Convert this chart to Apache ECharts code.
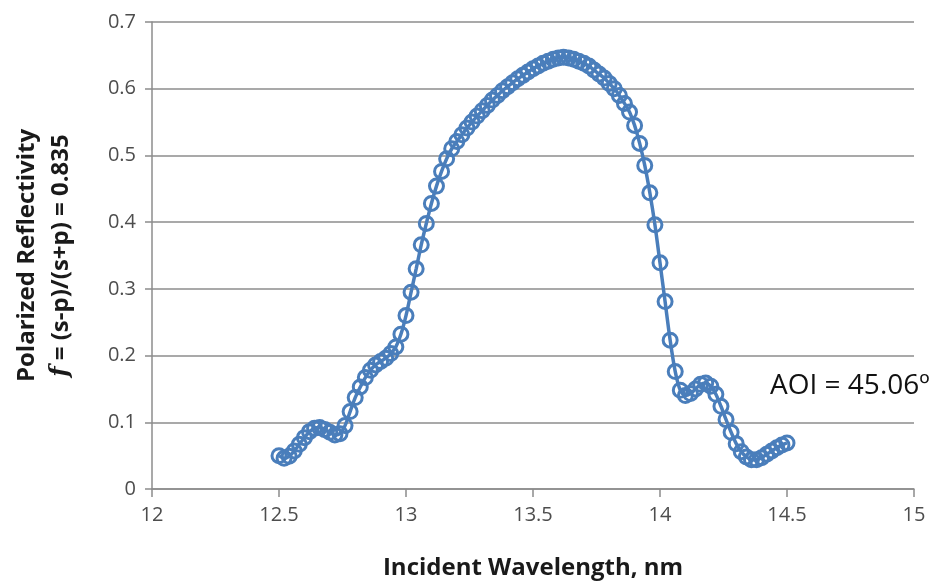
<!DOCTYPE html>
<html>
<head>
<meta charset="utf-8">
<script src="https://cdn.jsdelivr.net/npm/echarts@6/dist/echarts.min.js"></script>
<style>
  html, body { margin: 0; padding: 0; background: #fff; }
  #chart { width: 940px; height: 586px; }
</style>
</head>
<body>
<div id="chart"></div>
<script>
// wavelength (nm) at 0.02 nm steps
const wavelength = [
  12.50, 12.52, 12.54, 12.56, 12.58, 12.60, 12.62, 12.64, 12.66, 12.68,
  12.70, 12.72, 12.74, 12.76, 12.78, 12.80, 12.82, 12.84, 12.86, 12.88,
  12.90, 12.92, 12.94, 12.96, 12.98, 13.00, 13.02, 13.04, 13.06, 13.08,
  13.10, 13.12, 13.14, 13.16, 13.18, 13.20, 13.22, 13.24, 13.26, 13.28,
  13.30, 13.32, 13.34, 13.36, 13.38, 13.40, 13.42, 13.44, 13.46, 13.48,
  13.50, 13.52, 13.54, 13.56, 13.58, 13.60, 13.62, 13.64, 13.66, 13.68,
  13.70, 13.72, 13.74, 13.76, 13.78, 13.80, 13.82, 13.84, 13.86, 13.88,
  13.90, 13.92, 13.94, 13.96, 13.98, 14.00, 14.02, 14.04, 14.06, 14.08,
  14.10, 14.12, 14.14, 14.16, 14.18, 14.20, 14.22, 14.24, 14.26, 14.28,
  14.30, 14.32, 14.34, 14.36, 14.38, 14.40, 14.42, 14.44, 14.46, 14.48,
  14.50
];

// polarized reflectivity f = (s-p)/(s+p)
const reflectivity = [
  0.050, 0.046, 0.049, 0.057, 0.067, 0.077, 0.086, 0.091, 0.092, 0.089,
  0.085, 0.081, 0.083, 0.095, 0.116, 0.137, 0.153, 0.167, 0.178, 0.186,
  0.191, 0.196, 0.203, 0.213, 0.232, 0.260, 0.295, 0.330, 0.366, 0.398,
  0.428, 0.454, 0.476, 0.495, 0.510, 0.521, 0.531, 0.541, 0.550, 0.559,
  0.567, 0.575, 0.583, 0.590, 0.597, 0.603, 0.609, 0.615, 0.620, 0.625,
  0.630, 0.634, 0.638, 0.641, 0.644, 0.646, 0.647, 0.646, 0.644, 0.641,
  0.638, 0.634, 0.628, 0.622, 0.616, 0.608, 0.600, 0.590, 0.578, 0.565,
  0.545, 0.518, 0.485, 0.444, 0.396, 0.339, 0.281, 0.223, 0.176, 0.148,
  0.140, 0.143, 0.150, 0.157, 0.159, 0.154, 0.142, 0.124, 0.104, 0.085,
  0.068, 0.056, 0.048, 0.044, 0.044, 0.047, 0.052, 0.057, 0.062, 0.066,
  0.069
];

const annotation = 'AOI = 45.06º';

const FONT = '"Open Sans", "Noto Sans", sans-serif';
const BLUE = '#4a7ebb';
const AXIS_GREY = '#8c8c8c';
const TITLE = { fontFamily: FONT, fontSize: 24, fontWeight: 'bold', color: '#1a1a1a', lineHeight: 34 };

const chart = echarts.init(document.getElementById('chart'), null, { renderer: 'canvas' });

chart.setOption({
  backgroundColor: '#fff',
  animation: false,
  grid: { left: 152, right: 26, top: 22, bottom: 97, containLabel: false, outerBoundsMode: 'none' },
  xAxis: {
    type: 'value', min: 12, max: 15, interval: 0.5,
    name: 'Incident Wavelength, nm',
    nameLocation: 'middle', nameGap: 62,
    nameTextStyle: TITLE,
    axisLine: { show: true, onZero: false, lineStyle: { color: AXIS_GREY, width: 1.5 } },
    axisTick: { show: true, inside: false, length: 8, lineStyle: { color: AXIS_GREY, width: 1.5 } },
    axisLabel: { fontFamily: FONT, fontSize: 20, color: '#4d4d4d', margin: 16 },
    splitLine: { show: false }
  },
  yAxis: {
    type: 'value', min: 0, max: 0.7, interval: 0.1,
    name: '{a|Polarized Reflectivity}\n{i|f}{a| = (s-p)/(s+p) = 0.835}',
    nameLocation: 'middle', nameRotate: 90, nameGap: 74,
    nameTextStyle: {
      ...TITLE,
      rich: {
        a: TITLE,
        i: { ...TITLE, fontFamily: '"DejaVu Serif", serif', fontStyle: 'italic' }
      }
    },
    axisLine: { show: true, lineStyle: { color: AXIS_GREY, width: 1.5 } },
    axisTick: { show: true, inside: false, length: 7, lineStyle: { color: AXIS_GREY, width: 1.5 } },
    axisLabel: { fontFamily: FONT, fontSize: 20, color: '#4d4d4d', margin: 16 },
    splitLine: { show: true, lineStyle: { color: AXIS_GREY, width: 1.5 } }
  },
  series: [{
    type: 'line',
    data: wavelength.map((w, i) => [w, reflectivity[i]]),
    smooth: 0.3,
    symbol: 'circle',
    symbolSize: 14,
    lineStyle: { color: BLUE, width: 3.5 },
    itemStyle: { color: 'rgba(0,0,0,0)', borderColor: BLUE, borderWidth: 3 },
    z: 3
  }],
  graphic: [{
    type: 'text',
    left: 770, top: 372,
    style: { text: annotation, font: '28px ' + FONT, fill: '#111' }
  }]
});
</script>
</body>
</html>
